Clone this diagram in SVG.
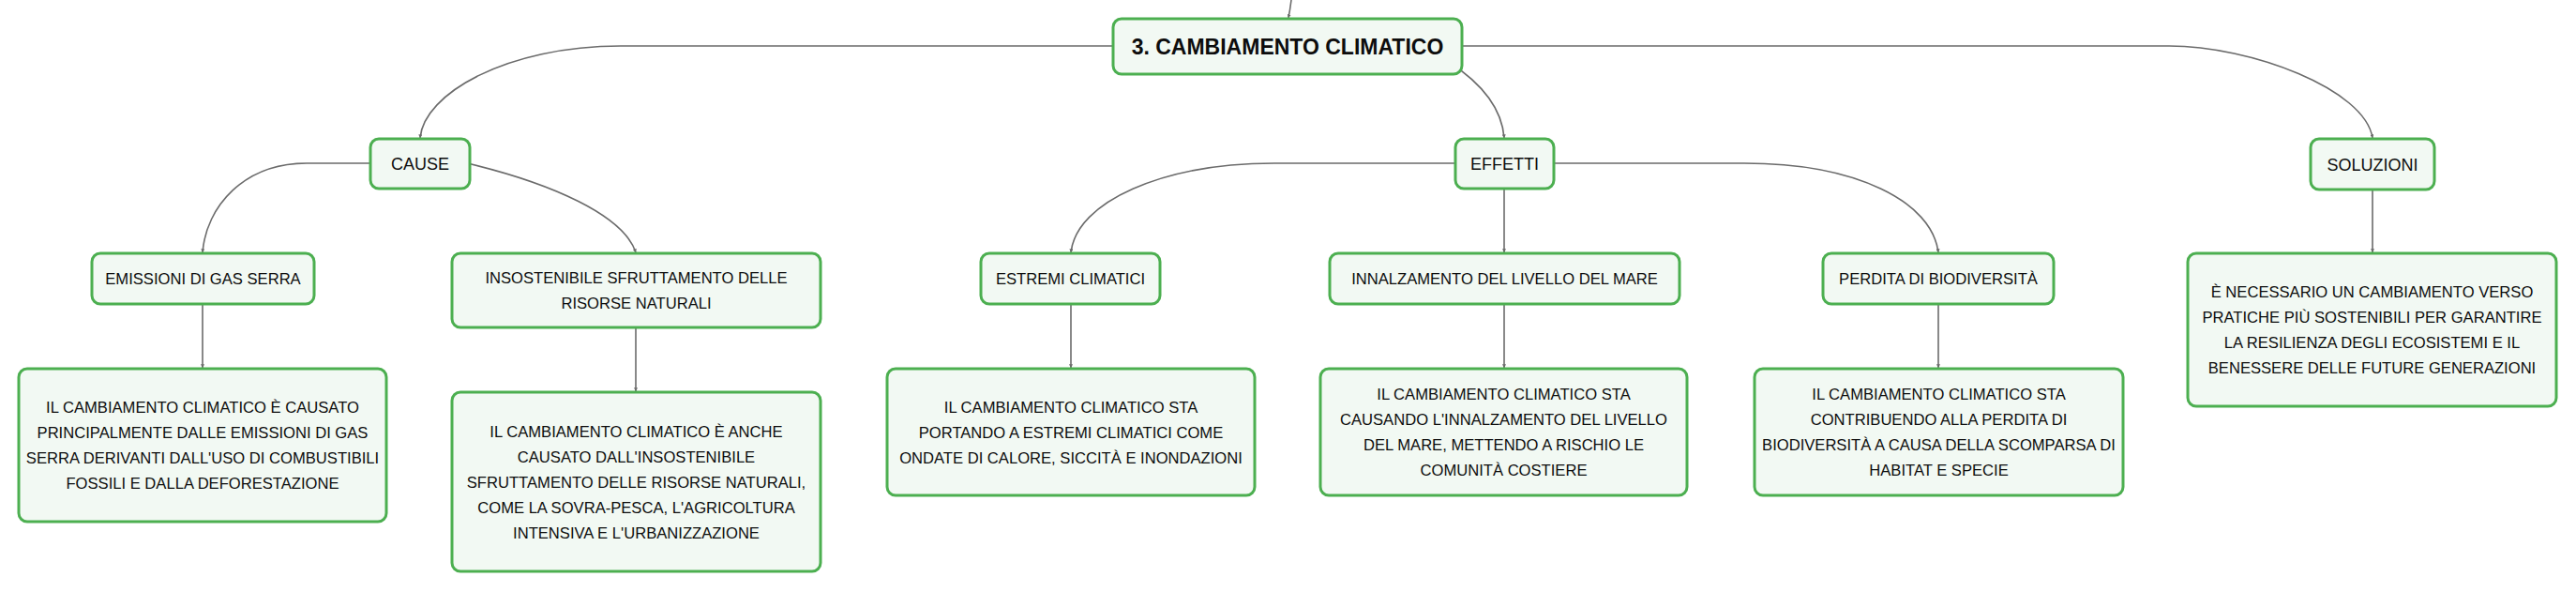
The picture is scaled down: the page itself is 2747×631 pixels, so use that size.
<svg xmlns="http://www.w3.org/2000/svg" width="2747" height="631" viewBox="0 0 2747 631">
<style>
.bg{fill:#ffffff}
.conn{fill:none;stroke:#6b6b6b;stroke-width:1.6;marker-end:url(#arr)}
.box{fill:#f2f9f3;stroke:#4caf50;stroke-width:3}
.t{font-family:"Liberation Sans",Arial,sans-serif;fill:#0d0d0d;text-anchor:middle}
.t0{font-size:23px;font-weight:bold}
.t1{font-size:18px}
.t2{font-size:16.6px}
</style>
<defs>
<marker id="arr" viewBox="0 0 6 6" refX="5.5" refY="3" markerWidth="4" markerHeight="4" markerUnits="userSpaceOnUse" orient="auto">
<path d="M0,0 L6,3 L0,6 z" fill="#6b6b6b"/>
</marker>
</defs>
<rect class="bg" x="0" y="0" width="2747" height="631"/>
<g id="connectors">
<path class="conn" d="M1377,0 C1376,8 1375,14 1374,19"/>
<path class="conn" d="M1187,49 H662 C540,49 452,100 448,147"/>
<path class="conn" d="M1559,49 H2313 C2400,49 2522,95 2530,147"/>
<path class="conn" d="M1545,66 C1585,92 1602,120 1604,147"/>
<path class="conn" d="M395,174 H327 C260,174 220,220 216,269"/>
<path class="conn" d="M490,172 C590,195 665,230 678,269"/>
<path class="conn" d="M1552,174 H1359 C1240,174 1148,215 1142,269"/>
<path class="conn" d="M1657,174 H1860 C1980,174 2060,215 2067,269"/>
<path class="conn" d="M1604,201 V269"/>
<path class="conn" d="M2530,202 V269"/>
<path class="conn" d="M216,324 V392"/>
<path class="conn" d="M678,349 V417"/>
<path class="conn" d="M1142,324 V392"/>
<path class="conn" d="M1604,324 V392"/>
<path class="conn" d="M2067,324 V392"/>
</g>
<g id="root">
<rect class="box" x="1187" y="20" width="372" height="59" rx="9"/>
<text class="t t0" x="1373" y="57.5">3. CAMBIAMENTO CLIMATICO</text>
</g>
<g id="cause">
<rect class="box" x="395" y="148" width="106" height="53" rx="9"/>
<text class="t t1" x="448" y="181">CAUSE</text>
</g>
<g id="effetti">
<rect class="box" x="1552" y="148" width="105" height="53" rx="9"/>
<text class="t t1" x="1604.5" y="181">EFFETTI</text>
</g>
<g id="soluzioni">
<rect class="box" x="2464" y="148" width="132" height="54" rx="9"/>
<text class="t t1" x="2530" y="181.5">SOLUZIONI</text>
</g>
<g id="emissioni">
<rect class="box" x="98" y="270" width="237" height="54" rx="9"/>
<text class="t t2" x="216.5" y="303">EMISSIONI DI GAS SERRA</text>
</g>
<g id="insostenibile">
<rect class="box" x="482" y="270" width="393" height="79" rx="9"/>
<text class="t t2" x="678.5" y="302">INSOSTENIBILE SFRUTTAMENTO DELLE</text>
<text class="t t2" x="678.5" y="329">RISORSE NATURALI</text>
</g>
<g id="estremi">
<rect class="box" x="1046" y="270" width="191" height="54" rx="9"/>
<text class="t t2" x="1141.5" y="303">ESTREMI CLIMATICI</text>
</g>
<g id="innalzamento">
<rect class="box" x="1418" y="270" width="373" height="54" rx="9"/>
<text class="t t2" x="1604.5" y="303">INNALZAMENTO DEL LIVELLO DEL MARE</text>
</g>
<g id="perdita">
<rect class="box" x="1944" y="270" width="246" height="54" rx="9"/>
<text class="t t2" x="2067" y="303">PERDITA DI BIODIVERSITÀ</text>
</g>
<g id="soluzioni-desc">
<rect class="box" x="2333" y="270" width="393" height="163" rx="9"/>
<text class="t t2" x="2529.5" y="317">È NECESSARIO UN CAMBIAMENTO VERSO</text>
<text class="t t2" x="2529.5" y="344">PRATICHE PIÙ SOSTENIBILI PER GARANTIRE</text>
<text class="t t2" x="2529.5" y="371">LA RESILIENZA DEGLI ECOSISTEMI E IL</text>
<text class="t t2" x="2529.5" y="398">BENESSERE DELLE FUTURE GENERAZIONI</text>
</g>
<g id="emissioni-desc">
<rect class="box" x="20" y="393" width="392" height="163" rx="9"/>
<text class="t t2" x="216" y="440">IL CAMBIAMENTO CLIMATICO È CAUSATO</text>
<text class="t t2" x="216" y="467">PRINCIPALMENTE DALLE EMISSIONI DI GAS</text>
<text class="t t2" x="216" y="494">SERRA DERIVANTI DALL'USO DI COMBUSTIBILI</text>
<text class="t t2" x="216" y="521">FOSSILI E DALLA DEFORESTAZIONE</text>
</g>
<g id="insostenibile-desc">
<rect class="box" x="482" y="418" width="393" height="191" rx="9"/>
<text class="t t2" x="678.5" y="465.5">IL CAMBIAMENTO CLIMATICO È ANCHE</text>
<text class="t t2" x="678.5" y="492.5">CAUSATO DALL'INSOSTENIBILE</text>
<text class="t t2" x="678.5" y="519.5">SFRUTTAMENTO DELLE RISORSE NATURALI,</text>
<text class="t t2" x="678.5" y="546.5">COME LA SOVRA-PESCA, L'AGRICOLTURA</text>
<text class="t t2" x="678.5" y="573.5">INTENSIVA E L'URBANIZZAZIONE</text>
</g>
<g id="estremi-desc">
<rect class="box" x="946" y="393" width="392" height="135" rx="9"/>
<text class="t t2" x="1142" y="439.5">IL CAMBIAMENTO CLIMATICO STA</text>
<text class="t t2" x="1142" y="466.5">PORTANDO A ESTREMI CLIMATICI COME</text>
<text class="t t2" x="1142" y="493.5">ONDATE DI CALORE, SICCITÀ E INONDAZIONI</text>
</g>
<g id="innalzamento-desc">
<rect class="box" x="1408" y="393" width="391" height="135" rx="9"/>
<text class="t t2" x="1603.5" y="426">IL CAMBIAMENTO CLIMATICO STA</text>
<text class="t t2" x="1603.5" y="453">CAUSANDO L'INNALZAMENTO DEL LIVELLO</text>
<text class="t t2" x="1603.5" y="480">DEL MARE, METTENDO A RISCHIO LE</text>
<text class="t t2" x="1603.5" y="507">COMUNITÀ COSTIERE</text>
</g>
<g id="perdita-desc">
<rect class="box" x="1871" y="393" width="393" height="135" rx="9"/>
<text class="t t2" x="2067.5" y="426">IL CAMBIAMENTO CLIMATICO STA</text>
<text class="t t2" x="2067.5" y="453">CONTRIBUENDO ALLA PERDITA DI</text>
<text class="t t2" x="2067.5" y="480">BIODIVERSITÀ A CAUSA DELLA SCOMPARSA DI</text>
<text class="t t2" x="2067.5" y="507">HABITAT E SPECIE</text>
</g>
</svg>
